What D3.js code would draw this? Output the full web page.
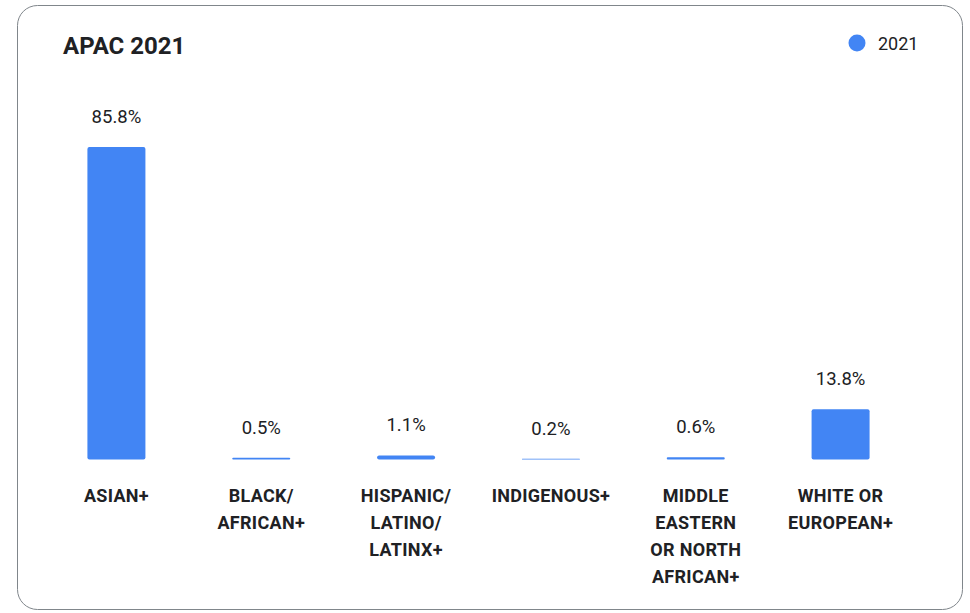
<!DOCTYPE html>
<html>
<head>
<meta charset="utf-8">
<script src="https://cdn.jsdelivr.net/npm/d3@7/dist/d3.min.js"></script>
<style>
  body { margin: 0; background: #fff; }
  svg { display: block; font-family: Roboto, "Noto Sans", sans-serif; }
</style>
</head>
<body>
<div id="chart"></div>
<script>
const categories = ['ASIAN+', 'BLACK/ AFRICAN+', 'HISPANIC/ LATINO/ LATINX+', 'INDIGENOUS+', 'MIDDLE EASTERN OR NORTH AFRICAN+', 'WHITE OR EUROPEAN+'];
const categoryLines = [
	['ASIAN+'],
	['BLACK/', 'AFRICAN+'],
	['HISPANIC/', 'LATINO/', 'LATINX+'],
	['INDIGENOUS+'],
	['MIDDLE', 'EASTERN', 'OR NORTH', 'AFRICAN+'],
	['WHITE OR', 'EUROPEAN+']
];
const values2021 = [85.8, 0.5, 1.1, 0.2, 0.6, 13.8];
const seriesName = '2021';
const title = 'APAC 2021';

const width = 970, height = 613;
const blue = '#4285f4', ink = '#202124';

const svg = d3.select('#chart').append('svg')
	.attr('width', width)
	.attr('height', height);

// card outline
svg.append('rect')
	.attr('x', 17.5).attr('y', 5.5)
	.attr('width', 945).attr('height', 604)
	.attr('rx', 20)
	.attr('fill', '#fff')
	.attr('stroke', '#80868b')
	.attr('stroke-width', 1);

svg.append('text')
	.attr('x', 63).attr('y', 54)
	.attr('font-size', 24).attr('font-weight', 700)
	.attr('fill', ink)
	.text(title);

// legend
const legend = svg.append('g').attr('transform', 'translate(857,43)');
legend.append('circle').attr('r', 8.5).attr('fill', blue);
legend.append('text')
	.attr('x', 21).attr('y', 7)
	.attr('font-size', 18).attr('fill', ink)
	.text(seriesName);

const baseline = 459.5;
const x = d3.scaleBand()
	.domain(categories)
	.range([44, 913])
	.paddingInner(0.6)
	.paddingOuter(0.3);
const y = d3.scaleLinear()
	.domain([0, 85.8])
	.range([baseline, 147]);

const bw = 58;
const bars = svg.append('g').selectAll('g')
	.data(categories)
	.enter().append('g')
	.attr('transform', d => 'translate(' + (x(d) + x.bandwidth() / 2) + ',0)');

bars.append('rect')
	.attr('x', -bw / 2)
	.attr('y', (d, i) => y(values2021[i]))
	.attr('width', bw)
	.attr('height', (d, i) => baseline - y(values2021[i]))
	.attr('rx', (d, i) => Math.min(2, (baseline - y(values2021[i])) / 2))
	.attr('fill', blue);

bars.append('text')
	.attr('text-anchor', 'middle')
	.attr('y', (d, i) => y(values2021[i]) - 24)
	.attr('font-size', 18.5)
	.attr('fill', ink)
	.text((d, i) => values2021[i].toFixed(1) + '%');

bars.append('text')
	.attr('text-anchor', 'middle')
	.attr('font-size', 18).attr('font-weight', 700)
	.attr('letter-spacing', 0.3)
	.attr('fill', ink)
	.selectAll('tspan')
	.data((d, i) => categoryLines[i])
	.enter().append('tspan')
	.attr('x', 0)
	.attr('y', (d, j) => 502 + j * 27)
	.text(d => d);
</script>
</body>
</html>
